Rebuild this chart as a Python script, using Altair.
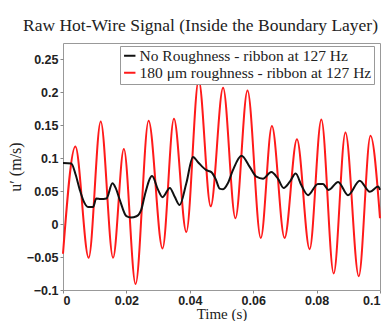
import altair as alt
import pandas as pd

# Black series: no roughness
t_black = [0.0, 0.0026, 0.0040, 0.0053, 0.0065, 0.0079, 0.0095, 0.0105, 0.0119, 0.0137,
           0.0156, 0.0166, 0.0179, 0.0200, 0.0214, 0.0232, 0.0247, 0.0258, 0.0281, 0.0300,
           0.0314, 0.0337, 0.0352, 0.0368, 0.0389, 0.0410, 0.0426, 0.0452, 0.0468, 0.0482,
           0.0494, 0.0505, 0.0520, 0.0536, 0.0563, 0.0589, 0.0610, 0.0631, 0.0657, 0.0678,
           0.0696, 0.0715, 0.0734, 0.0752, 0.0773, 0.0804, 0.0820, 0.0838, 0.0868, 0.0899,
           0.0936, 0.0968, 0.0994, 0.1]
u_black = [0.093, 0.092, 0.075, 0.052, 0.035, 0.026, 0.026, 0.039, 0.038, 0.039,
           0.062, 0.055, 0.037, 0.012, 0.010, 0.012, 0.022, 0.044, 0.073, 0.052,
           0.041, 0.055, 0.042, 0.029, 0.062, 0.102, 0.094, 0.082, 0.079, 0.068,
           0.054, 0.053, 0.062, 0.082, 0.104, 0.087, 0.072, 0.069, 0.079, 0.069,
           0.055, 0.064, 0.077, 0.059, 0.044, 0.061, 0.061, 0.052, 0.064, 0.044,
           0.066, 0.049, 0.057, 0.052]

# Red series: 180 um roughness
t_red = [0.0, 0.0039, 0.0081, 0.0119, 0.0158, 0.0192, 0.0229, 0.0270, 0.0314, 0.0350,
         0.0389, 0.0428, 0.0466, 0.0505, 0.0544, 0.0582, 0.0624, 0.0659, 0.0699, 0.0738,
         0.0778, 0.0815, 0.0854, 0.0891, 0.0933, 0.0970, 0.1]
u_red = [-0.045, 0.118, -0.051, 0.156, -0.051, 0.114, -0.091, 0.157, -0.037, 0.160,
         -0.012, 0.219, 0.027, 0.207, 0.009, 0.203, -0.021, 0.149, -0.021, 0.129,
         -0.038, 0.159, -0.075, 0.139, -0.079, 0.134, 0.009]

series_names = ["No Roughness - ribbon at 127 Hz", "180 \u03bcm roughness - ribbon at 127 Hz"]
series_colors = ["#111111", "#ff1a1a"]
x_ticks = [0, 0.02, 0.04, 0.06, 0.08, 0.1]
y_ticks = [-0.1, -0.05, 0, 0.05, 0.1, 0.15, 0.2, 0.25]

df_black = pd.DataFrame({"t": t_black, "u": u_black, "series": series_names[0]})
df_red = pd.DataFrame({"t": t_red, "u": u_red, "series": series_names[1]})

color = alt.Color(
    "series:N",
    scale=alt.Scale(domain=series_names, range=series_colors),
    title=None,
    legend=alt.Legend(
        orient="none", legendX=57, legendY=3, fillColor="white", strokeColor="#999999",
        padding=2, labelFont="Liberation Serif", labelFontSize=15.5, labelColor="#222222",
        labelLimit=400, symbolType="stroke", symbolStrokeWidth=2, symbolSize=130,
        rowPadding=0, labelOffset=2,
    ),
)

x = alt.X(
    "t:Q",
    scale=alt.Scale(domain=[0, 0.1], nice=False),
    axis=alt.Axis(values=x_ticks, format="~g", title="Time (s)", grid=False,
                  tickSize=3, labelPadding=1, titleY=28, titleBaseline="alphabetic",
                  titleFontSize=15),
)
y = alt.Y(
    "u:Q",
    scale=alt.Scale(domain=[-0.1, 0.275], nice=False),
    axis=alt.Axis(values=y_ticks, format="~g", title="u\u2032 (m/s)", grid=False,
                  tickSize=3, labelPadding=2, titlePadding=3),
)

red = alt.Chart(df_red).mark_line(strokeWidth=2, interpolate="monotone").encode(
    x=x, y=y, color=color)
black = alt.Chart(df_black).mark_line(strokeWidth=2, interpolate="monotone").encode(
    x=x, y=y, color=color)

chart = alt.layer(red, black).properties(
    width=317, height=247,
    autosize=alt.AutoSizeParams(type="none"),
    padding={"left": 55, "top": 35, "right": 2, "bottom": 31},
    title=alt.Title("Raw Hot-Wire Signal (Inside the Boundary Layer)",
                    font="Liberation Serif", fontSize=17.5, fontWeight="normal",
                    color="#222222", dx=-21, offset=9),
).configure_view(stroke="#999999", strokeWidth=1).configure_axis(
    domain=False, tickColor="#888888", labelFont="Liberation Sans", labelFontSize=12.5,
    labelFontWeight="bold", labelColor="#222222", titleFont="Liberation Serif",
    titleFontSize=16, titleFontWeight="normal", titleColor="#222222",
)

chart.save("out.html", embed_options={"renderer": "svg", "actions": False})
